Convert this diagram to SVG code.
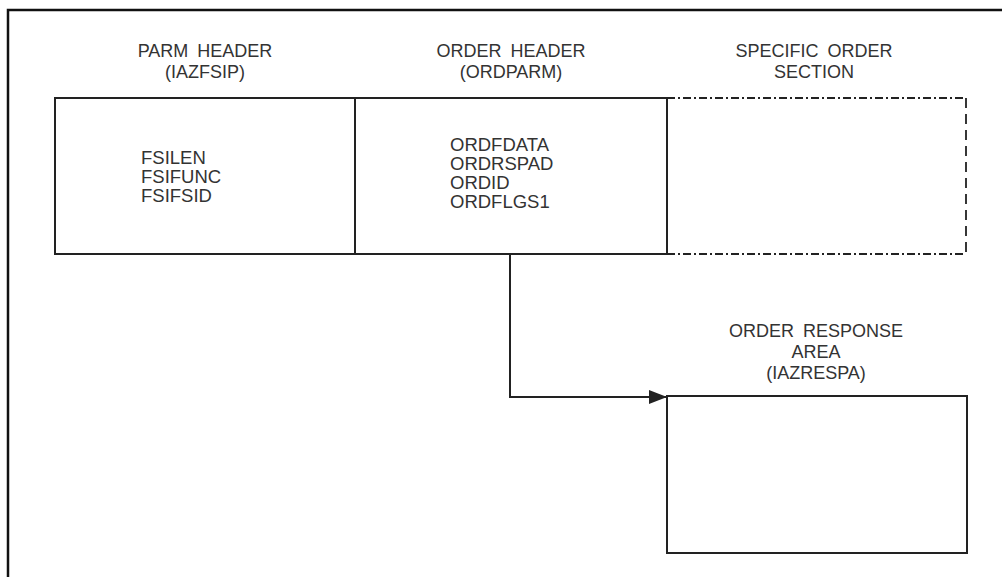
<svg xmlns="http://www.w3.org/2000/svg" width="1002" height="577" viewBox="0 0 1002 577">
<defs>
<style>
.t{font-family:"Liberation Sans",Arial,sans-serif;font-size:18px;fill:#333;text-anchor:middle;word-spacing:4px}
.f{font-family:"Liberation Sans",Arial,sans-serif;font-size:18.5px;fill:#333}
.box{fill:none;stroke:#222;stroke-width:2}
.dd{fill:none;stroke:#222;stroke-width:1.8;stroke-dasharray:8 3 2 3}
.dr{fill:none;stroke:#222;stroke-width:1.8;stroke-dasharray:10 6}
.c{fill:none;stroke:#222;stroke-width:2}
</style>
<marker id="ah" markerWidth="18" markerHeight="14" refX="18" refY="7" orient="auto" markerUnits="userSpaceOnUse">
<path d="M0,0 L18,7 L0,14 Z" fill="#222"/>
</marker>
</defs>
<rect width="1002" height="577" fill="#fff"/>
<g id="frame">
<path d="M8,577 V10 H1002" fill="none" stroke="#111" stroke-width="2.5"/>
</g>
<g id="parm-header">
<text class="t" x="205" y="57">PARM HEADER</text>
<text class="t" x="205" y="78">(IAZFSIP)</text>
<rect class="box" x="55" y="98" width="300" height="156"/>
<text class="f" x="141" y="164">FSILEN</text>
<text class="f" x="141" y="183">FSIFUNC</text>
<text class="f" x="141" y="202">FSIFSID</text>
</g>
<g id="order-header">
<text class="t" x="511" y="57">ORDER HEADER</text>
<text class="t" x="511" y="78">(ORDPARM)</text>
<rect class="box" x="355" y="98" width="312" height="156"/>
<text class="f" x="450" y="151">ORDFDATA</text>
<text class="f" x="450" y="170">ORDRSPAD</text>
<text class="f" x="450" y="189">ORDID</text>
<text class="f" x="450" y="208">ORDFLGS1</text>
</g>
<g id="specific-order">
<text class="t" x="814" y="57">SPECIFIC ORDER</text>
<text class="t" x="814" y="78">SECTION</text>
<path class="dd" d="M667,98 H966"/>
<path class="dd" d="M667,254 H966"/>
<path class="dr" d="M966,98 V254"/>
</g>
<g id="order-response">
<text class="t" x="816" y="337">ORDER RESPONSE</text>
<text class="t" x="816" y="358">AREA</text>
<text class="t" x="816" y="379">(IAZRESPA)</text>
<rect class="box" x="667" y="396" width="300" height="157"/>
</g>
<g id="connectors">
<path class="c" d="M510,254 V397 H667" marker-end="url(#ah)"/>
</g>
</svg>
